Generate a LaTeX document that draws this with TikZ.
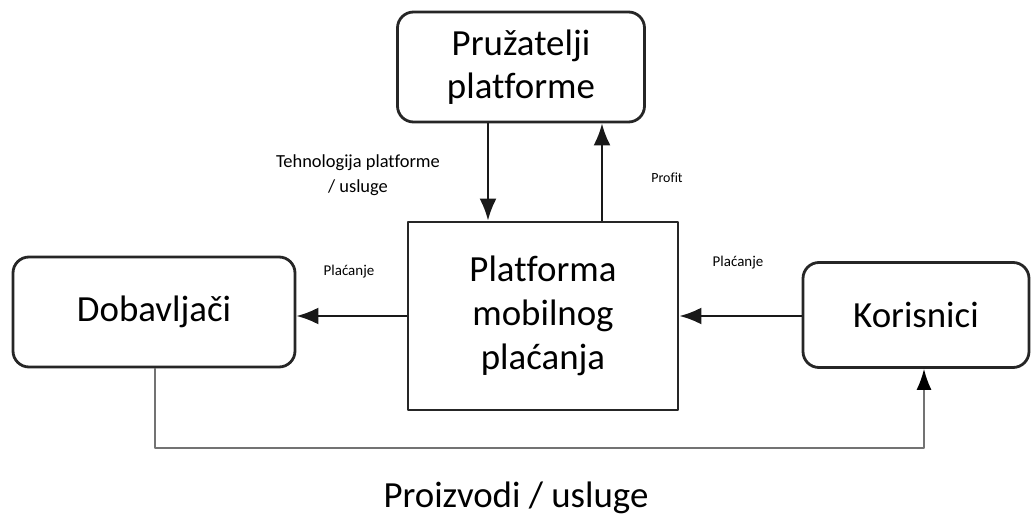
\documentclass[tikz,border=0pt]{standalone}
\usepackage{fontspec}
\setmainfont[Ligatures={NoCommon,NoContextual}]{Carlito}
\usetikzlibrary{arrows.meta,positioning}
\tikzset{
  roundbox/.style={draw=black!85,line width=2.8bp,rounded corners=16bp,align=center,
    font=\fontsize{37}{43}\selectfont},
  sharpbox/.style={draw=black!85,line width=2.8bp,align=center,
    font=\fontsize{37}{44}\selectfont},
  flow/.style={line width=2.4bp,draw=black!90,-{Latex[length=22bp,width=17bp]}},
  smalltext/.style={font=\fontsize{15}{19}\selectfont,align=center}
}
\begin{document}
\begin{tikzpicture}[x=1bp,y=-1bp, line join=round]
            \useasboundingbox (0,0) rectangle (1032,524);
            % boxes
            \node[roundbox,minimum width=247bp,minimum height=110bp] (provider) at (521,67) {Pružatelji\\platforme};
            \node[sharpbox,minimum width=270bp,minimum height=188bp] (platform) at (543,316) {Platforma\\mobilnog\\plaćanja};
            \node[roundbox,minimum width=282bp,minimum height=110bp] (supplier) at (154,312) {Dobavljači};
            \node[roundbox,minimum width=226bp,minimum height=105bp] (users) at (916,315) {Korisnici};
            % flows
            \draw[flow] (488,0 |- provider.south) -- (488,0 |- platform.north);
            \draw[flow] (602,0 |- platform.north) -- (602,0 |- provider.south);
            \draw[flow] (platform.west |- 0,316) -- (supplier.east |- 0,316);
            \draw[flow] (users.west |- 0,316) -- (platform.east |- 0,316);
            \coordinate (low) at (155,448);
            \draw[line width=1.6bp,draw=black!55,-{Latex[length=21bp,width=15bp,color=black]}]
              (supplier.south -| low) -- (low) -- (924,448) -- (924,0 |- users.south);
            % labels
            \node[smalltext,font=\fontsize{18.5}{25}\selectfont] (tech) at (358,175) {Tehnologija platforme\\/ usluge};
            \node[smalltext,font=\fontsize{14}{18}\selectfont] (profit) at (667,178) {Profit};
            \node[smalltext] (pay1) at (349,272) {Plaćanje};
            \node[smalltext] (pay2) at (738,263) {Plaćanje};
            \node[font=\fontsize{37}{44}\selectfont] (goods) at (516,498) {Proizvodi / usluge};
\end{tikzpicture}
\end{document}
